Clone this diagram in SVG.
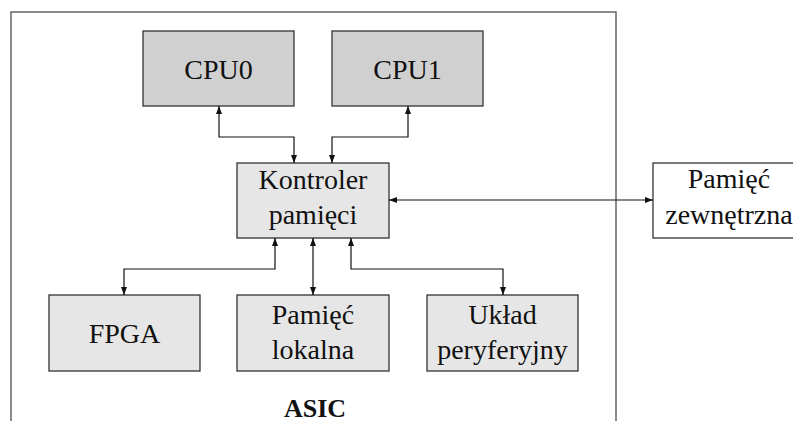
<svg xmlns="http://www.w3.org/2000/svg" width="793" height="421" viewBox="0 0 793 421" font-family="Liberation Serif">
<defs>
<style>
.t{font-size:28px;fill:#111;text-anchor:middle}
.b{stroke:#333;stroke-width:1.3}
.dark{fill:#d0d0d0}
.light{fill:#e6e6e6}
.c{fill:none;stroke:#111;stroke-width:1.2;marker-start:url(#ah);marker-end:url(#ah)}
</style>
<marker id="ah" markerUnits="userSpaceOnUse" markerWidth="8" markerHeight="6" refX="8" refY="3" orient="auto-start-reverse"><path d="M0,0 L8,3 L0,6 z" fill="#111"/></marker>
</defs>
<rect width="793" height="421" fill="#fff"/>
<g id="asic">
<path d="M11,430 V12 H616 V430" fill="none" stroke="#666" stroke-width="1.5"/>
<text x="315" y="417" class="t" font-weight="bold" style="font-size:26px">ASIC</text>
</g>
<g id="cpu0"><rect x="143" y="31" width="151" height="75" class="b dark"/><text x="218.5" y="79" class="t">CPU0</text></g>
<g id="cpu1"><rect x="332" y="31" width="151" height="75" class="b dark"/><text x="407.5" y="79" class="t">CPU1</text></g>
<g id="kontroler"><rect x="237" y="163" width="152" height="75" class="b light"/><text x="313" y="189" class="t">Kontroler</text><text x="313" y="224" class="t">pamięci</text></g>
<g id="zewn"><rect x="653" y="163" width="152" height="75" class="b" fill="#fff"/><text x="729" y="188" class="t">Pamięć</text><text x="729" y="224" class="t">zewnętrzna</text></g>
<g id="fpga"><rect x="49" y="295" width="151" height="76" class="b light"/><text x="124.5" y="343" class="t">FPGA</text></g>
<g id="lokalna"><rect x="237" y="295" width="152" height="76" class="b light"/><text x="313" y="324" class="t">Pamięć</text><text x="313" y="359" class="t">lokalna</text></g>
<g id="uklad"><rect x="427" y="295" width="151" height="76" class="b light"/><text x="502.5" y="324" class="t">Układ</text><text x="502.5" y="359" class="t">peryferyjny</text></g>
<g id="connectors">
<path class="c" d="M219,106 V137 H294 V163"/>
<path class="c" d="M408,106 V137 H332 V163"/>
<path class="c" d="M389,200 H653"/>
<path class="c" d="M275,238 V269 H124 V295"/>
<path class="c" d="M313,238 V295"/>
<path class="c" d="M351,238 V269 H503 V295"/>
</g>
</svg>
